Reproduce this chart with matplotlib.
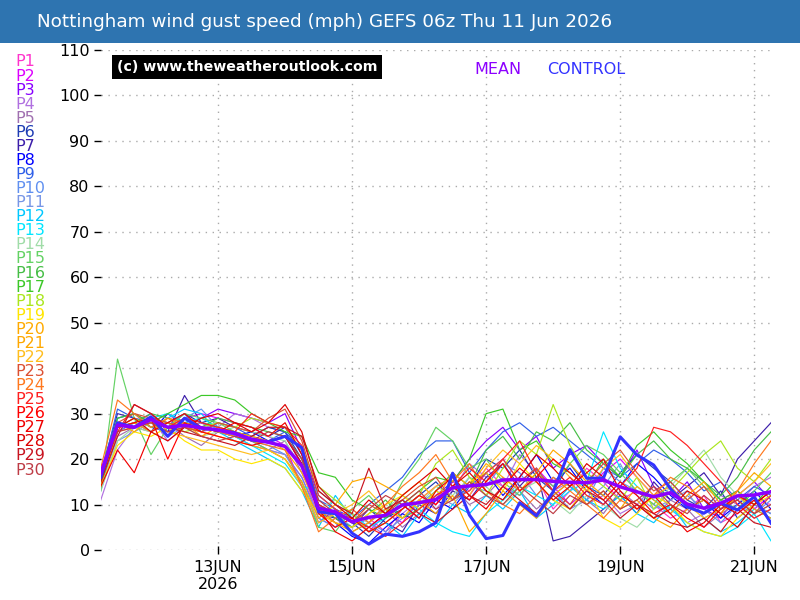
import matplotlib
matplotlib.use("Agg")
import matplotlib.pyplot as plt
from matplotlib.patches import Rectangle
import pandas as pd

title = "Nottingham wind gust speed (mph) GEFS 06z Thu 11 Jun 2026"
times = pd.date_range("2026-06-11 06:00", periods=41, freq="6h")
tick_dates = pd.to_datetime(["2026-06-13", "2026-06-15", "2026-06-17", "2026-06-19", "2026-06-21"])
tick_labels = ["13JUN\n2026", "15JUN", "17JUN", "19JUN", "21JUN"]
yticks = list(range(0, 111, 10))

mean = [16.9, 27.5, 27.0, 28.7, 27.0, 27.4, 26.9, 26.4, 25.6, 24.4, 23.7, 22.8, 18.5,
        9.2, 8.4, 6.2, 7.2, 7.6, 9.9, 10.4, 11.1, 13.7, 14.1, 14.4, 15.4, 15.5, 15.5,
        15.1, 14.9, 14.8, 15.4, 13.9, 12.8, 11.7, 12.6, 10.1, 9.2, 10.3, 11.9, 12.1, 12.8]
control = [16, 28, 27, 29.3, 25, 29, 26.8, 26.4, 25.8, 24.2, 23.8, 25, 22.5,
           8.4, 8, 3.7, 1.3, 3.5, 3.0, 4.0, 6.0, 16.9, 7.7, 2.5, 3.2, 10.4, 7.5,
           12.8, 22.1, 15.8, 15.8, 24.9, 20.9, 18.7, 13.5, 9.5, 8.1, 10.3, 8.8, 11.7, 5.9]

P1 = [15, 27, 29, 28, 30, 27, 28, 26, 25, 24, 22, 21, 16,
      8, 6, 5, 7, 4, 9, 12, 10, 15, 13, 18, 14, 12, 16, 9, 13, 18, 15, 11, 13, 10, 7, 9, 12, 6, 8, 11, 10]
P2 = [17, 29, 30, 28, 27, 29, 30, 29, 28, 27, 25, 23, 14,
      6, 9, 7, 4, 8, 6, 11, 14, 16, 12, 17, 20, 15, 18, 14, 10, 13, 17, 20, 16, 12, 14, 10, 8, 11, 13, 9, 12]
P3 = [16, 26, 28, 30, 26, 28, 29, 31, 30, 29, 28, 30, 22,
      12, 9, 6, 5, 8, 10, 7, 12, 15, 20, 24, 27, 22, 25, 18, 21, 23, 19, 16, 22, 14, 11, 15, 9, 7, 12, 15, 11]
P4 = [11, 22, 27, 29, 24, 27, 26, 27, 30, 29, 27, 26, 18,
      7, 5, 9, 6, 3, 8, 11, 9, 13, 19, 16, 14, 21, 17, 13, 15, 10, 12, 8, 10, 14, 9, 6, 8, 12, 10, 14, 16]
P5 = [14, 25, 27, 26, 28, 25, 23, 26, 25, 23, 22, 24, 17,
      9, 7, 4, 6, 9, 5, 8, 11, 14, 10, 12, 16, 13, 9, 12, 15, 11, 8, 13, 10, 7, 11, 9, 5, 8, 10, 7, 9]
P6 = [15, 28, 27, 29, 28, 30, 28, 27, 26, 25, 27, 26, 20,
      10, 8, 6, 3, 7, 9, 12, 15, 11, 14, 20, 18, 22, 16, 13, 19, 14, 12, 17, 21, 18, 15, 11, 9, 13, 7, 10, 8]
P7 = [17, 30, 29, 27, 26, 34, 28, 29, 27, 26, 25, 27, 21,
      8, 7, 5, 9, 6, 4, 10, 8, 13, 11, 16, 19, 14, 18, 2, 3, 6, 9, 12, 8, 15, 11, 14, 17, 12, 20, 24, 28]
P8 = [16, 27, 28, 26, 30, 28, 27, 26, 25, 26, 24, 25, 19,
      9, 6, 3, 1.5, 5, 8, 6, 11, 9, 14, 17, 12, 16, 21, 15, 18, 13, 10, 14, 19, 16, 12, 9, 11, 7, 10, 13, 9]
P9 = [16, 31, 29, 28, 27, 30, 26, 28, 27, 25, 24, 26, 22,
      11, 9, 7, 10, 13, 16, 21, 24, 24, 17, 22, 26, 28, 25, 27, 24, 21, 18, 16, 19, 22, 20, 17, 13, 15, 11, 14, 12]
P10 = [14, 26, 28, 30, 27, 29, 31, 27, 26, 24, 23, 21, 16,
       7, 5, 8, 6, 4, 7, 10, 13, 11, 16, 14, 19, 17, 12, 16, 14, 11, 18, 15, 13, 10, 8, 12, 9, 6, 10, 8, 11]
P11 = [13, 24, 26, 28, 25, 27, 28, 26, 25, 24, 22, 21, 15,
       6, 8, 5, 7, 9, 11, 8, 12, 10, 14, 13, 11, 15, 18, 13, 9, 11, 14, 19, 12, 9, 11, 13, 7, 9, 12, 10, 8]
P12 = [16, 29, 30, 27, 29, 31, 30, 26, 24, 22, 20, 18, 13,
       5, 12, 7, 4, 6, 3, 8, 5, 10, 8, 12, 9, 13, 7, 10, 14, 11, 9, 12, 8, 6, 10, 5, 7, 4, 6, 9, 7]
P13 = [15, 28, 27, 29, 30, 28, 29, 27, 25, 23, 21, 19, 14,
       13, 10, 8, 5, 7, 11, 9, 6, 4, 3, 8, 11, 14, 12, 10, 13, 15, 26, 18, 14, 11, 9, 6, 4, 3, 5, 8, 2]
P14 = [13, 24, 27, 26, 28, 27, 25, 26, 27, 26, 25, 24, 18,
       9, 11, 8, 6, 9, 12, 10, 14, 12, 16, 14, 10, 13, 15, 11, 8, 12, 10, 7, 5, 9, 14, 18, 22, 16, 12, 8, 10]
P15 = [13, 42, 29, 21, 27, 30, 29, 28, 26, 24, 22, 20, 15,
       5, 4, 9, 12, 8, 15, 20, 27, 24, 18, 20, 15, 12, 17, 14, 19, 23, 21, 17, 13, 10, 15, 18, 14, 11, 9, 13, 17]
P16 = [14, 27, 28, 30, 29, 28, 27, 29, 28, 27, 26, 25, 20,
       10, 7, 5, 8, 11, 7, 9, 13, 17, 14, 22, 25, 20, 26, 24, 28, 22, 19, 16, 21, 24, 20, 18, 15, 12, 16, 22, 26]
P17 = [16, 29, 30, 28, 30, 32, 34, 34, 33, 30, 28, 26, 25,
       17, 16, 11, 9, 7, 10, 13, 16, 15, 20, 30, 31, 22, 24, 19, 17, 14, 20, 16, 23, 26, 22, 19, 15, 11, 13, 10, 14]
P18 = [15, 27, 29, 27, 28, 26, 27, 28, 27, 29, 28, 27, 22,
       14, 11, 8, 4, 6, 9, 12, 19, 22, 16, 12, 18, 24, 21, 32, 23, 17, 14, 11, 16, 9, 13, 17, 21, 24, 18, 15, 20]
P19 = [14, 23, 26, 25, 27, 24, 22, 22, 20, 19, 20, 18, 13,
       8, 6, 5, 8, 10, 12, 9, 13, 11, 15, 17, 13, 19, 15, 11, 9, 14, 7, 5, 8, 12, 10, 6, 4, 3, 7, 10, 12]
P20 = [15, 27, 28, 26, 29, 27, 26, 25, 24, 23, 22, 20, 15,
       7, 10, 15, 16, 14, 12, 15, 11, 17, 14, 19, 16, 13, 17, 22, 19, 15, 12, 9, 14, 11, 8, 12, 15, 10, 13, 17, 14]
P21 = [16, 28, 26, 29, 27, 28, 25, 27, 26, 25, 24, 22, 17,
       9, 6, 4, 6, 9, 7, 11, 8, 12, 4, 8, 13, 10, 7, 12, 15, 10, 13, 9, 11, 7, 5, 9, 11, 8, 12, 9, 7]
P22 = [15, 26, 27, 28, 26, 25, 24, 23, 22, 21, 22, 20, 14,
       6, 8, 10, 13, 9, 7, 11, 14, 16, 12, 18, 22, 19, 23, 20, 16, 13, 18, 21, 16, 12, 14, 10, 7, 9, 12, 15, 19]
P23 = [17, 28, 30, 29, 28, 27, 26, 28, 27, 26, 29, 31, 24,
       12, 9, 6, 10, 8, 11, 14, 16, 11, 13, 17, 20, 15, 18, 13, 10, 15, 19, 22, 17, 13, 15, 11, 14, 9, 11, 8, 12]
P24 = [18, 33, 30, 27, 29, 28, 27, 26, 25, 24, 23, 22, 14,
       4, 7, 9, 6, 10, 14, 17, 21, 15, 19, 13, 10, 8, 12, 16, 13, 10, 7, 11, 9, 12, 16, 14, 11, 8, 13, 19, 24]
P25 = [16, 26, 32, 30, 27, 29, 28, 27, 26, 30, 28, 27, 23,
       10, 8, 7, 5, 3, 6, 9, 12, 14, 18, 15, 20, 24, 17, 13, 16, 12, 10, 14, 18, 27, 26, 23, 19, 15, 10, 7, 9]
P26 = [15, 27, 28, 29, 20, 28, 26, 25, 24, 23, 24, 25, 19,
       8, 5, 7, 4, 6, 9, 12, 10, 14, 11, 15, 19, 13, 16, 20, 17, 14, 11, 15, 12, 8, 10, 7, 5, 9, 12, 10, 13]
P27 = [14, 22, 17, 26, 28, 30, 27, 26, 28, 27, 25, 28, 21,
       9, 4, 2, 5, 8, 10, 7, 13, 16, 12, 9, 14, 18, 15, 11, 14, 17, 20, 13, 9, 12, 8, 4, 6, 10, 8, 11, 6]
P28 = [16, 27, 29, 26, 24, 27, 29, 30, 28, 26, 28, 32, 26,
       13, 10, 7, 11, 8, 12, 15, 18, 14, 17, 13, 11, 16, 21, 18, 14, 19, 16, 12, 10, 7, 9, 13, 11, 8, 5, 10, 13]
P29 = [15, 25, 32, 30, 27, 26, 25, 24, 23, 25, 27, 27, 25,
       14, 10, 8, 18, 9, 11, 8, 6, 9, 12, 10, 14, 11, 8, 12, 9, 13, 11, 7, 10, 8, 6, 5, 7, 4, 9, 6, 5]
P30 = [17, 26, 27, 28, 26, 27, 25, 24, 25, 24, 26, 25, 20,
       11, 8, 6, 9, 12, 10, 13, 9, 11, 15, 12, 10, 14, 11, 8, 12, 10, 13, 9, 11, 14, 10, 8, 12, 9, 11, 8, 10]

members = [P1, P2, P3, P4, P5, P6, P7, P8, P9, P10, P11, P12, P13, P14, P15,
           P16, P17, P18, P19, P20, P21, P22, P23, P24, P25, P26, P27, P28, P29, P30]
member_names = ["P%d" % (k + 1) for k in range(30)]
member_colors = ["#FF33CC", "#DD00FF", "#8800FF", "#B070E0", "#A070B0", "#1E3CB4",
                 "#3C1EAA", "#0000FF", "#3060E8", "#6090F0", "#7896E6", "#00C8FF",
                 "#00E6FF", "#A0DCA8", "#64D264", "#46BE46", "#3CC828", "#AAE61E",
                 "#FFE600", "#FFAA00", "#FFA800", "#FFBE1E", "#DC5032", "#FF781E",
                 "#FF2020", "#FF0000", "#F00000", "#DC0000", "#C81420", "#BE3C46"]
mean_color = "#8C00FF"
control_color = "#3333FF"

fig = plt.figure(figsize=(8, 6), dpi=100)
fig.patch.set_facecolor("white")

# title bar
fig.patches.append(Rectangle((0, 1 - 43 / 600), 1, 43 / 600, transform=fig.transFigure,
                             facecolor="#2E74B0", edgecolor="none", zorder=0))
fig.text(37 / 800, 1 - 22 / 600, title, color="white", fontsize=13.2,
         va="center", ha="left", family="DejaVu Sans")

ax = fig.add_axes([100.75 / 800, 50 / 600, 670.25 / 800, 500 / 600])
for s in ax.spines.values():
    s.set_visible(False)

for vals, col in zip(members, member_colors):
    ax.plot(times, vals, color=col, lw=0.85, zorder=3)
ax.plot(times, control, color=control_color, lw=2.2, zorder=4)
ax.plot(times, mean, color=mean_color, lw=2.5, zorder=5)

ax.set_xlim(times[0], times[-1])
ax.set_ylim(0, 110)
ax.set_yticks(yticks)
ax.set_xticks(tick_dates)
ax.set_xticklabels(tick_labels)
ax.tick_params(axis="y", length=5, width=1, direction="out", pad=3, labelsize=11.5)
ax.tick_params(axis="x", length=6, width=1, direction="inout", pad=4, labelsize=11.5)
ax.grid(True, color="#AAAAAA", lw=1, linestyle=(0, (1, 4)))
ax.set_axisbelow(True)
ax.set_facecolor("white")

# legend of members
for k, (name, col) in enumerate(zip(member_names, member_colors)):
    fig.text(15 / 800, 1 - (62 + k * 14.07) / 600, name, color=col, fontsize=11.5,
             va="center", ha="left")

fig.text(474 / 800, 1 - 69 / 600, "MEAN", color=mean_color, fontsize=11.5, va="center", ha="left")
fig.text(547 / 800, 1 - 69 / 600, "CONTROL", color=control_color, fontsize=11.5, va="center", ha="left")

fig.text(117 / 800, 1 - 67 / 600, "(c) www.theweatheroutlook.com", color="white",
         fontsize=10.2, fontweight="bold", va="center", ha="left",
         bbox=dict(facecolor="black", edgecolor="none", boxstyle="square,pad=0.35"))

fig.savefig("out.png", dpi=100)
